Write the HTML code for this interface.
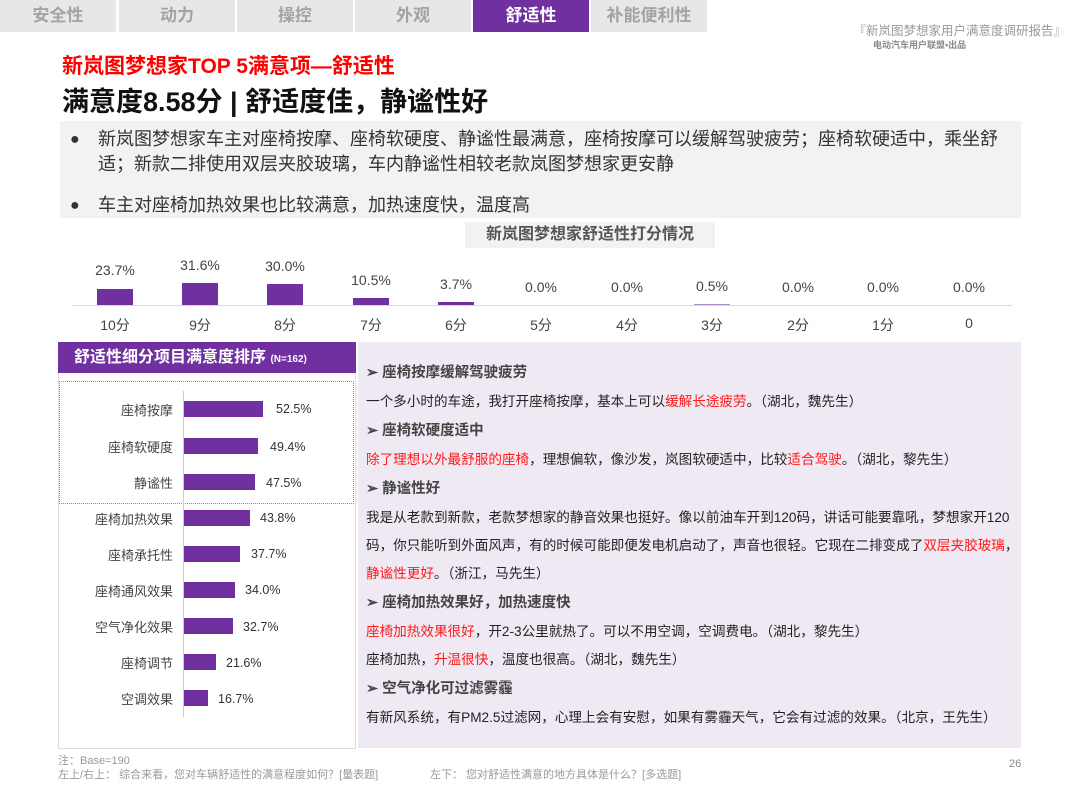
<!DOCTYPE html><html><head><meta charset="utf-8"><style>
*{margin:0;padding:0;box-sizing:border-box}
body{width:1080px;height:810px;background:#fff;position:relative;overflow:hidden;font-family:"Liberation Sans","Noto Sans CJK SC",sans-serif}
.a{position:absolute;white-space:nowrap}
.tab{position:absolute;top:0;height:32px;width:116px;background:#e7e7ea;color:#a6a2a2;font-size:17px;font-weight:bold;text-align:center;line-height:32px}
.r{color:#ff1a1a}
.rt{font-size:13.6px;color:#222;left:366px}
.rh{font-size:14.5px;font-weight:bold;color:#444;left:366px}
.lab{font-size:13px;color:#444;text-align:right;width:120px;left:53px}
.bar{position:absolute;background:#7030a0;height:16px;left:184px}
.val{font-size:12.5px;color:#333}
.tl{font-size:14px;color:#444;width:60px;text-align:center}
</style></head><body>
<div class="tab" style="left:0">安全性</div>
<div class="tab" style="left:119px">动力</div>
<div class="tab" style="left:237px">操控</div>
<div class="tab" style="left:355px">外观</div>
<div class="tab" style="left:473px;background:#7030a0;color:#fff">舒适性</div>
<div class="tab" style="left:591px">补能便利性</div>
<div class="a" style="right:14px;top:20px;font-size:12.5px;color:#999">『新岚图梦想家用户满意度调研报告』</div>
<div class="a" style="left:873px;top:38px;font-size:9px;color:#888;font-weight:bold">电动汽车用户联盟•出品</div>
<div class="a" style="left:62px;top:50px;font-size:21px;font-weight:bold;color:#f00">新岚图梦想家TOP 5满意项—舒适性</div>
<div class="a" style="left:62px;top:80px;font-size:27px;font-weight:bold;color:#111">满意度8.58分 | 舒适度佳，静谧性好</div>
<div class="a" style="left:60px;top:121px;width:961px;height:97px;background:#f2f2f2"></div>
<div class="a" style="left:70px;top:127px;font-size:18px;color:#333;line-height:25px;width:945px">
<div style="padding-left:28px;position:relative"><span style="position:absolute;left:0;font-size:16px">●</span>新岚图梦想家车主对座椅按摩、座椅软硬度、静谧性最满意，座椅按摩可以缓解驾驶疲劳；座椅软硬适中，乘坐舒<br>适；新款二排使用双层夹胶玻璃，车内静谧性相较老款岚图梦想家更安静</div>
<div style="padding-left:28px;position:relative;margin-top:16px"><span style="position:absolute;left:0;font-size:16px">●</span>车主对座椅加热效果也比较满意，加热速度快，温度高</div></div>
<div class="a" style="left:465px;top:222px;width:250px;height:26px;background:#f2f2f2;font-size:16px;font-weight:bold;color:#555;text-align:center;line-height:26px">新岚图梦想家舒适性打分情况</div>
<div class="a" style="left:72px;top:305px;width:940px;height:1px;background:#d9d9d9"></div>
<div class="a" style="left:97px;top:289px;width:36px;height:16px;background:#7030a0"></div>
<div class="a" style="left:182px;top:283px;width:36px;height:22px;background:#7030a0"></div>
<div class="a" style="left:267px;top:284px;width:36px;height:21px;background:#7030a0"></div>
<div class="a" style="left:353px;top:298px;width:36px;height:7px;background:#7030a0"></div>
<div class="a" style="left:438px;top:302px;width:36px;height:3px;background:#7030a0"></div>
<div class="a" style="left:694px;top:304px;width:36px;height:1px;background:#b090c8"></div>
<div class="a tl" style="left:85px;top:262px">23.7%</div>
<div class="a tl" style="left:170px;top:257px">31.6%</div>
<div class="a tl" style="left:255px;top:258px">30.0%</div>
<div class="a tl" style="left:341px;top:272px">10.5%</div>
<div class="a tl" style="left:426px;top:276px">3.7%</div>
<div class="a tl" style="left:511px;top:279px">0.0%</div>
<div class="a tl" style="left:597px;top:279px">0.0%</div>
<div class="a tl" style="left:682px;top:278px">0.5%</div>
<div class="a tl" style="left:768px;top:279px">0.0%</div>
<div class="a tl" style="left:853px;top:279px">0.0%</div>
<div class="a tl" style="left:939px;top:279px">0.0%</div>
<div class="a tl" style="left:85px;top:315px">10分</div><div class="a tl" style="left:170px;top:315px">9分</div><div class="a tl" style="left:255px;top:315px">8分</div><div class="a tl" style="left:341px;top:315px">7分</div><div class="a tl" style="left:426px;top:315px">6分</div><div class="a tl" style="left:511px;top:315px">5分</div><div class="a tl" style="left:597px;top:315px">4分</div><div class="a tl" style="left:682px;top:315px">3分</div><div class="a tl" style="left:768px;top:315px">2分</div><div class="a tl" style="left:853px;top:315px">1分</div><div class="a tl" style="left:939px;top:315px">0</div>
<!-- left panel -->
<div class="a" style="left:58px;top:342px;width:298px;height:407px;border:1px solid #ddd;background:#fff"></div>
<div class="a" style="left:58px;top:342px;width:298px;height:31px;background:#7030a0;color:#fff;font-size:16px;font-weight:bold;line-height:31px;padding-left:16px">舒适性细分项目满意度排序 <span style="font-size:10px">(N=162)</span></div>
<div class="a" style="left:59px;top:381px;width:295px;height:123px;border:1px dotted #f06060"></div>
<div class="a" style="left:183px;top:391px;width:1px;height:326px;background:#ccc"></div>
<div class="a lab" style="top:400px">座椅按摩</div><div class="bar" style="top:401px;width:79px"></div><div class="a val" style="left:276px;top:402px">52.5%</div>
<div class="a lab" style="top:437px">座椅软硬度</div><div class="bar" style="top:438px;width:74px"></div><div class="a val" style="left:270px;top:440px">49.4%</div>
<div class="a lab" style="top:473px">静谧性</div><div class="bar" style="top:474px;width:71px"></div><div class="a val" style="left:266px;top:476px">47.5%</div>
<div class="a lab" style="top:509px">座椅加热效果</div><div class="bar" style="top:510px;width:66px"></div><div class="a val" style="left:260px;top:511px">43.8%</div>
<div class="a lab" style="top:545px">座椅承托性</div><div class="bar" style="top:546px;width:56px"></div><div class="a val" style="left:251px;top:547px">37.7%</div>
<div class="a lab" style="top:581px">座椅通风效果</div><div class="bar" style="top:582px;width:51px"></div><div class="a val" style="left:245px;top:583px">34.0%</div>
<div class="a lab" style="top:617px">空气净化效果</div><div class="bar" style="top:618px;width:49px"></div><div class="a val" style="left:243px;top:620px">32.7%</div>
<div class="a lab" style="top:653px">座椅调节</div><div class="bar" style="top:654px;width:32px"></div><div class="a val" style="left:226px;top:656px">21.6%</div>
<div class="a lab" style="top:689px">空调效果</div><div class="bar" style="top:690px;width:24px"></div><div class="a val" style="left:218px;top:692px">16.7%</div>
<!-- right panel -->
<div class="a" style="left:358px;top:342px;width:663px;height:406px;background:#efe9f3"></div>
<div class="a rh" style="top:361px">➢ 座椅按摩缓解驾驶疲劳</div>
<div class="a rt" style="top:390px">一个多小时的车途，我打开座椅按摩，基本上可以<span class="r">缓解长途疲劳</span>。（湖北，魏先生）</div>
<div class="a rh" style="top:419px">➢ 座椅软硬度适中</div>
<div class="a rt" style="top:448px"><span class="r">除了理想以外最舒服的座椅</span>，理想偏软，像沙发，岚图软硬适中，比较<span class="r">适合驾驶</span>。（湖北，黎先生）</div>
<div class="a rh" style="top:477px">➢ 静谧性好</div>
<div class="a rt" style="top:506px">我是从老款到新款，老款梦想家的静音效果也挺好。像以前油车开到120码，讲话可能要靠吼，梦想家开120</div>
<div class="a rt" style="top:534px">码，你只能听到外面风声，有的时候可能即便发电机启动了，声音也很轻。它现在二排变成了<span class="r">双层夹胶玻璃</span>，</div>
<div class="a rt" style="top:562px"><span class="r">静谧性更好</span>。（浙江，马先生）</div>
<div class="a rh" style="top:591px">➢ 座椅加热效果好，加热速度快</div>
<div class="a rt" style="top:620px"><span class="r">座椅加热效果很好</span>，开2-3公里就热了。可以不用空调，空调费电。（湖北，黎先生）</div>
<div class="a rt" style="top:648px">座椅加热，<span class="r">升温很快</span>，温度也很高。（湖北，魏先生）</div>
<div class="a rh" style="top:677px">➢ 空气净化可过滤雾霾</div>
<div class="a rt" style="top:706px">有新风系统，有PM2.5过滤网，心理上会有安慰，如果有雾霾天气，它会有过滤的效果。（北京，王先生）</div>
<!-- footer -->
<div class="a" style="left:58px;top:752px;font-size:11px;color:#999">注：Base=190</div>
<div class="a" style="left:58px;top:766px;font-size:11px;color:#999">左上/右上：&nbsp;综合来看，您对车辆舒适性的满意程度如何？[量表题]</div>
<div class="a" style="left:430px;top:766px;font-size:11px;color:#999">左下：&nbsp;您对舒适性满意的地方具体是什么？[多选题]</div>
<div class="a" style="left:1009px;top:758px;font-size:11px;color:#888">26</div>
</body></html>
